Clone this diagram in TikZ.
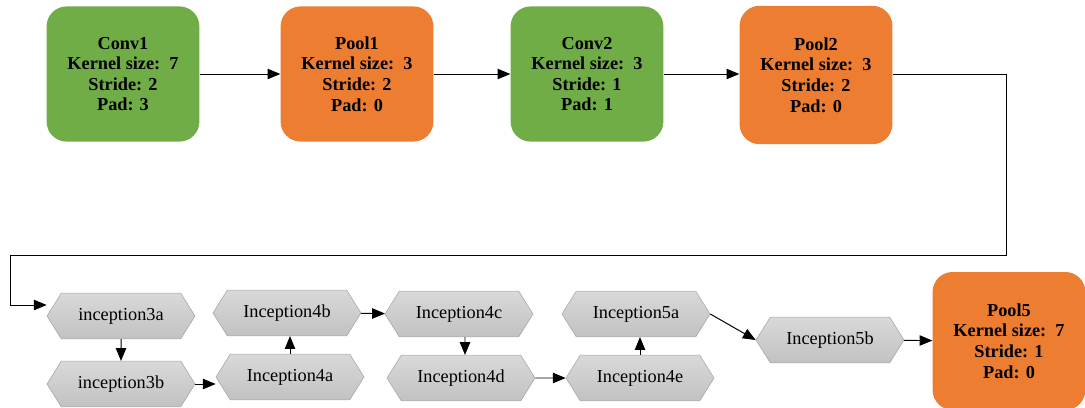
\documentclass[tikz,border=0pt]{standalone}
\usepackage{fontspec}
\setmainfont{Liberation Serif}
\usepackage{tikz}
\usetikzlibrary{arrows.meta,positioning,shapes.symbols,calc}
\definecolor{convgreen}{RGB}{112,173,71}
\definecolor{poolorange}{RGB}{237,125,49}
\definecolor{hexedge}{RGB}{165,165,165}

\begin{document}
\begin{tikzpicture}[x=0.25mm,y=-0.25mm,>={Triangle[length=3.2mm,width=2.6mm]},
  layer/.style={rounded corners=5mm,minimum width=38.2mm,minimum height=33.8mm,
    align=center,font=\fontsize{13}{14.6}\selectfont\bfseries,inner sep=0pt},
  conv/.style={layer,fill=convgreen},
  pool/.style={layer,fill=poolorange},
  incep/.style={signal,signal to=east and west,signal pointer angle=116,
    draw=hexedge,top color=gray!30,bottom color=gray!48,
    minimum width=37mm,minimum height=11.4mm,inner sep=0pt,
    font=\fontsize{13}{15}\selectfont},
  link/.style={->,line width=0.7pt}]
  \useasboundingbox (0,0) rectangle (1085,407);
  % stem: conv / pool blocks
  \node[conv] (conv1) at (123,74) {Conv1\\Kernel size:\ \ 7\\Stride: 2\\Pad: 3};
  \node[pool] (pool1) at (357,74) {Pool1\\Kernel size:\ \ 3\\Stride: 2\\Pad: 0};
  \node[conv] (conv2) at (587,74) {Conv2\\Kernel size:\ \ 3\\Stride: 1\\Pad: 1};
  \node[pool,minimum height=34.6mm] (pool2) at (816,75) {Pool2\\Kernel size:\ \ 3\\Stride: 2\\Pad: 0};
  % inception modules
  \node[incep] (in3a) at (121,316) {inception3a};
  \node[incep] (in3b) at (121,384) {inception3b};
  \node[incep] (in4a) at (290,377) {Inception4a};
  \node[incep] (in4b) at (287,313) {Inception4b};
  \node[incep] (in4c) at (459,314) {Inception4c};
  \node[incep] (in4d) at (461,378) {Inception4d};
  \node[incep] (in4e) at (640,378) {Inception4e};
  \node[incep] (in5a) at (636,314) {Inception5a};
  \node[incep] (in5b) at (830,340) {Inception5b};
  \node[pool,minimum height=34.5mm] (pool5) at (1009,341) {Pool5\\Kernel size:\ \ 7\\Stride: 1\\Pad: 0};
  % top row
  \draw[link] (conv1) -- (pool1);
  \draw[link] (pool1) -- (conv2);
  \draw[link] (conv2.east) -- (pool2.west |- conv2.east);
  % wrap-around to the second row
  \coordinate (turnR) at (1006,255);
  \coordinate (turnL) at (10,255);
  \coordinate (entry) at (10,305);
  \draw[link] (pool2.east |- conv2.east) -| (turnR) -- (turnL) -- (entry) -- (in3a.west |- entry);
  % inception chain
  \draw[link] (in3a) -- (in3b);
  \draw[link] (in3b.east) -- (in4a.west |- in3b.east);
  \draw[link] (in4a.north) -- (in4a.north |- in4b.south);
  \draw[link] (in4b) -- (in4c);
  \draw[link] ([xshift=1.5mm]in4c.south) -- ([xshift=1mm]in4d.north);
  \draw[link] (in4d) -- (in4e);
  \draw[link] (in4e.north) -- (in4e.north |- in5a.south);
  \draw[link] (in5a.east) -- (in5b.west);
  \draw[link] (in5b) -- (pool5);
\end{tikzpicture}
\end{document}
